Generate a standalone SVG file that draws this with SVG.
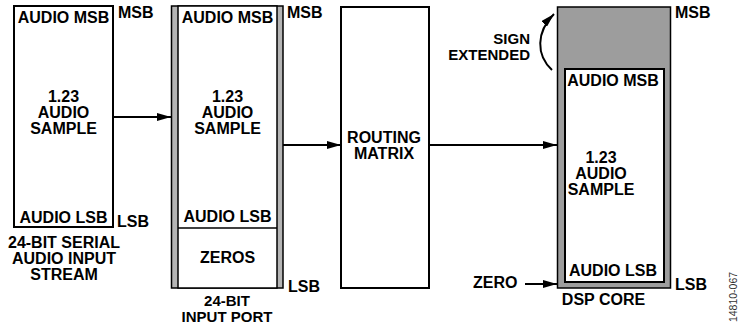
<svg xmlns="http://www.w3.org/2000/svg" width="739" height="333" viewBox="0 0 739 333">
<defs>
<style>
text{font-family:"Liberation Sans",Arial,sans-serif;font-weight:bold;font-size:16px;fill:#000}
.c{text-anchor:middle}
.e{text-anchor:end}
.s{font-size:15px}
.box{fill:#fff;stroke:#000;stroke-width:2}
.thin{fill:#fff;stroke:#000;stroke-width:1.5}
.line{fill:none;stroke:#000;stroke-width:2}
.id{font-weight:normal;font-size:10.5px;fill:#333}
</style>
<marker id="ah" markerWidth="14" markerHeight="8" refX="14" refY="4" orient="auto" markerUnits="userSpaceOnUse">
<path d="M0,0 L14,4 L0,8 Z" fill="#000"/>
</marker>
</defs>
<rect width="739" height="333" fill="#fff"/>

<g id="serial-stream">
<rect class="box" x="14" y="6" width="99" height="221"/>
<text class="c" x="63.5" y="23">AUDIO MSB</text>
<text class="c" x="63.5" y="102">1.23</text>
<text class="c" x="63.5" y="118">AUDIO</text>
<text class="c" x="63.5" y="134">SAMPLE</text>
<text class="c" x="63.5" y="223">AUDIO LSB</text>
<text x="118" y="18">MSB</text>
<text x="117" y="227">LSB</text>
<text class="c" x="64" y="248">24-BIT SERIAL</text>
<text class="c" x="64" y="264">AUDIO INPUT</text>
<text class="c" x="64" y="280">STREAM</text>
</g>

<g id="input-port">
<rect x="171.5" y="6" width="111.5" height="282" fill="#b5b5b5" stroke="#000" stroke-width="1.5"/>
<rect class="thin" x="178" y="6" width="99" height="282"/>
<line x1="178" y1="228" x2="277" y2="228" stroke="#000" stroke-width="1.5"/>
<text class="c" x="227.5" y="23">AUDIO MSB</text>
<text class="c" x="227.5" y="102">1.23</text>
<text class="c" x="227.5" y="118">AUDIO</text>
<text class="c" x="227.5" y="134">SAMPLE</text>
<text class="c" x="227.5" y="222">AUDIO LSB</text>
<text class="c" x="227.5" y="263">ZEROS</text>
<text x="287" y="18">MSB</text>
<text x="288" y="292">LSB</text>
<text class="c s" x="227" y="306">24-BIT</text>
<text class="c s" x="227" y="322">INPUT PORT</text>
</g>

<g id="routing-matrix">
<rect class="box" x="341" y="7" width="88" height="281"/>
<text class="c" x="384" y="143">ROUTING</text>
<text class="c" x="384" y="159">MATRIX</text>
</g>

<g id="dsp-core">
<rect x="557.5" y="7" width="113" height="281" fill="#9d9d9d" stroke="#000" stroke-width="1.5"/>
<rect class="box" x="565" y="69" width="99" height="213"/>
<text class="c" x="613" y="86">AUDIO MSB</text>
<text class="c" x="601" y="163">1.23</text>
<text class="c" x="601" y="179">AUDIO</text>
<text class="c" x="601" y="195">SAMPLE</text>
<text class="c" x="613" y="276">AUDIO LSB</text>
<text x="675" y="18">MSB</text>
<text x="675" y="290">LSB</text>
<text class="c" x="603.5" y="305">DSP CORE</text>
</g>

<g id="labels">
<text class="e s" x="530" y="44">SIGN</text>
<text class="e s" x="530" y="60">EXTENDED</text>
<text x="473" y="288">ZERO</text>
<text class="id" transform="translate(737,297) rotate(-90)" text-anchor="middle">14810-067</text>
</g>

<g id="connectors">
<line class="line" x1="113" y1="117" x2="171" y2="117" marker-end="url(#ah)"/>
<line class="line" x1="283" y1="145" x2="341" y2="145" marker-end="url(#ah)"/>
<line class="line" x1="429" y1="145" x2="557" y2="145" marker-end="url(#ah)"/>
<line class="line" x1="525" y1="284" x2="557" y2="284" marker-end="url(#ah)"/>
<path class="line" d="M552,70 C536,55 536,32 554,14" marker-end="url(#ah)"/>
</g>
</svg>
